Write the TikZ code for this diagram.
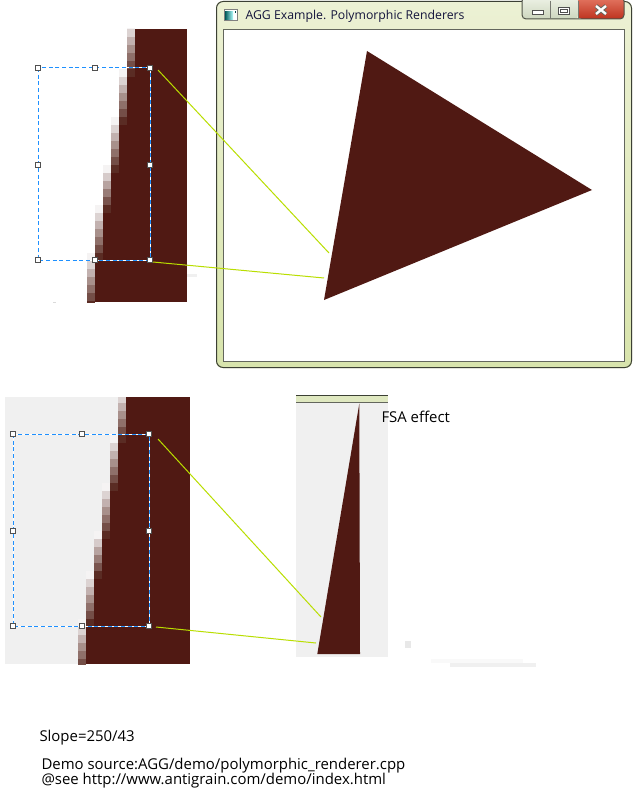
\documentclass[tikz,border=0pt]{standalone}
\usepackage{fontspec}
\setmainfont{Open Sans}
\begin{document}
\begin{tikzpicture}[x=0.75pt,y=-0.75pt,line width=0.75pt]
\definecolor{dk}{RGB}{80,25,19}
\definecolor{pxdark}{RGB}{90,44,36}
\definecolor{pxlight}{RGB}{245,243,243}
\definecolor{panelgrey}{RGB}{240,240,240}
\definecolor{selblue}{RGB}{30,144,255}
\definecolor{handlegray}{RGB}{80,80,80}
\definecolor{zoomline}{RGB}{185,222,0}
\definecolor{framelight}{RGB}{236,241,212}
\definecolor{framemid}{RGB}{216,228,172}
\definecolor{framedark}{RGB}{60,64,52}
\definecolor{titletext}{RGB}{20,20,60}
\definecolor{btnlight}{RGB}{238,242,230}
\definecolor{btnmid}{RGB}{205,214,190}
\definecolor{closetop}{RGB}{228,120,100}
\definecolor{closebot}{RGB}{190,50,30}
\definecolor{barcolor}{RGB}{223,232,192}
\tikzset{
  selwhite/.style={draw=white,line width=0.75pt},
  seldash/.style={draw=selblue,line width=0.75pt,dash pattern=on 3pt off 2pt},
  handle/.style={draw=handlegray,fill=white,line width=0.75pt},
  zoomconn/.style={draw=zoomline,line width=0.75pt},
  txt/.style={anchor=base west,inner sep=0pt,font=\fontsize{11.2pt}{13pt}\selectfont},
}
\useasboundingbox (0,0) rectangle (634,806);
\fill[white] (0,0) rectangle (634,806);

% ---------- top pixel strip ----------
\begin{scope}
\clip (0,29) rectangle (187,302);
\fill[dk] (135,29) rectangle (187,302);
\foreach \x/\s in {119/69,111/117,103/165,95/205,87/253}
  \fill[dk] (\x+8,\s) rectangle (187,302);
\foreach \x/\s/\n in {127/21/7,119/69/7,111/117/7,103/165/6,95/205/7,87/253/7} {
  \foreach \i in {1,...,\n} {
    \pgfmathtruncatemacro\p{100*(\i-1)/(\n-1)}
    \fill[pxdark!\p!pxlight] (\x,{\s+8*(\i-1)}) rectangle ++(8,8);
  }
}
\end{scope}
\fill[panelgrey!80!gray] (53,301.5) rectangle (56,302.5);
\fill[panelgrey] (187,274) rectangle (197,277);

% ---------- bottom pixel strip ----------
\fill[panelgrey] (5,397) rectangle (190,664);
\begin{scope}
\clip (5,397) rectangle (190,664);
\fill[dk] (126,397) rectangle (190,664);
\foreach \x/\s in {110/435,102/483,94/531,86/571,78/619}
  \fill[dk] (\x+8,\s) rectangle (190,664);
\foreach \x/\s/\n in {118/387/7,110/435/7,102/483/7,94/531/6,86/571/7,78/619/7} {
  \foreach \i in {1,...,\n} {
    \pgfmathtruncatemacro\p{100*(\i-1)/(\n-1)}
    \fill[pxdark!\p!pxlight] (\x,{\s+8*(\i-1)}) rectangle ++(8,8);
  }
}
\end{scope}

% ---------- selection rectangles ----------
\draw[selwhite] (38,68) rectangle (150,260);
\draw[seldash] (38,68) rectangle (150,260);
\foreach \hx/\hy in {38/68,95/68,150/68,38/165,150/165,38/260,95/260,150/260}
  \draw[handle] (\hx-2.5,\hy-2.5) rectangle ++(5,5);
\draw[selwhite] (13,434) rectangle (149,626);
\draw[seldash] (13,434) rectangle (149,626);
\foreach \hx/\hy in {13/434,82/434,149/434,13/531,149/531,13/626,82/626,149/626}
  \draw[handle] (\hx-2.5,\hy-2.5) rectangle ++(5,5);

% ---------- window ----------
\shade[top color=framelight,bottom color=framemid,rounded corners=5pt]
  (216,1) rectangle (632,368);
\draw[framedark,rounded corners=5pt] (216.5,1.5) rectangle (631.5,367.5);
\fill[white] (224,30) rectangle (624,361);
\draw[draw=framedark!80] (223.5,30) rectangle (624,361);
% app icon
\fill[white] (224,10) rectangle (237,21);
\shade[left color=teal!70!black,right color=cyan!30] (225,12) rectangle (233,20);
\draw[gray] (224,10) rectangle (237,21);
\fill[teal!60!black] (234.5,11) rectangle (236,13);
\node[anchor=base west,inner sep=0pt,text=titletext,font=\fontsize{9.2pt}{11pt}\selectfont] (title) at (245,19.5) {AGG Example. Polymorphic Renderers};
% buttons
\shade[top color=btnlight,bottom color=btnmid,rounded corners=3pt] (522,-3) rectangle (578,19);
\shade[top color=closetop,bottom color=closebot,rounded corners=3pt] (578,-3) rectangle (624,19);
\begin{scope}
\clip (516,1) rectangle (632,30);
\draw[framedark!90,rounded corners=3pt] (522,-3) rectangle (624,19);
\end{scope}
\draw[framedark!70] (550,1) -- (550,19);
\draw[framedark!70] (578,1) -- (578,19);
\draw[handlegray,fill=white] (532,10.5) rectangle (543,14.5);
\draw[handlegray,fill=white] (558.5,7.5) rectangle (569,15);
\draw[handlegray] (560.5,10) rectangle (567,13);
\draw[framedark!80,line width=3.2pt] (596,6) -- (606,14) (606,6) -- (596,14);
\draw[white,line width=1.8pt] (596,6) -- (606,14) (606,6) -- (596,14);

% big triangle
\coordinate (ta) at (367,51);
\coordinate (tb) at (592,190);
\coordinate (tc) at (324,300);
\fill[dk] (ta) -- (tb) -- (tc) -- cycle;

% ---------- bottom panel ----------
\fill[panelgrey] (296,403) rectangle (388,657);
\fill[barcolor] (296,395) rectangle (388,403);
\draw[framedark] (296,395.5) -- (388,395.5);
\draw[framedark!80] (296,402.5) -- (388,402.5);
\coordinate (sa) at (359.3,403.5);
\coordinate (sb) at (360,654);
\coordinate (sc) at (317.3,654);
\fill[dk] (sa) -- (sb) -- (sc) -- cycle;
\node[txt] (fsa) at (381,422.3) {FSA effect};
\fill[gray!18] (405,641) rectangle (411,648);
\fill[gray!5] (431,659) rectangle (523,663);
\fill[gray!12] (450,663) rectangle (536,667);

% ---------- zoom connectors ----------
\coordinate (z1a) at (158,70);
\coordinate (z1b) at (329,253);
\coordinate (z2a) at (153,262);
\coordinate (z2b) at (324,278);
\coordinate (z3a) at (158,439);
\coordinate (z3b) at (321,617);
\coordinate (z4a) at (156,627);
\coordinate (z4b) at (316,643);
\draw[zoomconn] (z1a) -- (z1b);
\draw[zoomconn] (z2a) -- (z2b);
\draw[zoomconn] (z3a) -- (z3b);
\draw[zoomconn] (z4a) -- (z4b);

% ---------- texts ----------
\node[txt] (slope) at (39,741.7) {Slope=250/43};
\node[txt] (demo) at (41,769) {Demo source:AGG/demo/polymorphic\_renderer.cpp};
\node[txt] (see) at (41,784.5) {@see http://www.antigrain.com/demo/index.html};
\end{tikzpicture}
\end{document}
